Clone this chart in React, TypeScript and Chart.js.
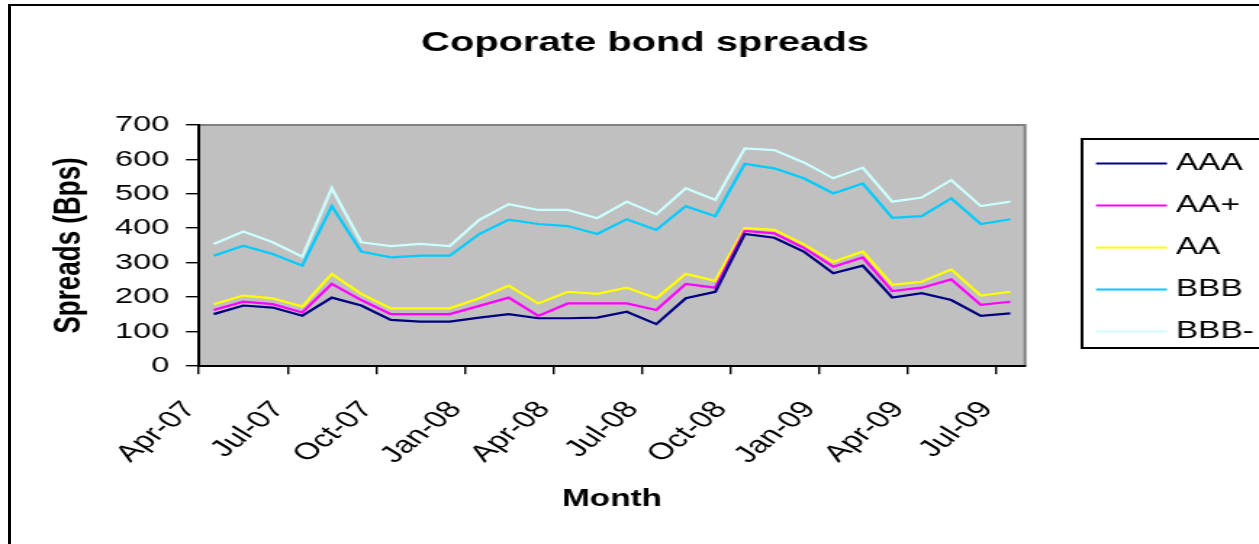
import React, { useEffect, useRef } from 'react';
import { Chart, registerables } from 'chart.js';

Chart.register(...registerables);

const chartTitle = 'Coporate bond spreads';
const xTitle = 'Month';
const yTitle = 'Spreads (Bps)';

const months = [
  'Apr-07', 'May-07', 'Jun-07', 'Jul-07', 'Aug-07', 'Sep-07', 'Oct-07', 'Nov-07', 'Dec-07',
  'Jan-08', 'Feb-08', 'Mar-08', 'Apr-08', 'May-08', 'Jun-08', 'Jul-08', 'Aug-08', 'Sep-08',
  'Oct-08', 'Nov-08', 'Dec-08', 'Jan-09', 'Feb-09', 'Mar-09', 'Apr-09', 'May-09', 'Jun-09', 'Jul-09',
];
const tickLabels = ['Apr-07', 'Jul-07', 'Oct-07', 'Jan-08', 'Apr-08', 'Jul-08', 'Oct-08', 'Jan-09', 'Apr-09', 'Jul-09'];
const yTicks = [0, 100, 200, 300, 400, 500, 600, 700];

const aaa = [150, 175, 169, 145, 198, 175, 133, 128, 128, 140, 150, 138, 138, 140, 157, 121, 196, 215, 383, 372, 332, 269, 291, 198, 211, 191, 145, 152];
const aaPlus = [162, 186, 179, 155, 238, 191, 150, 150, 150, 174, 198, 145, 181, 181, 181, 162, 238, 227, 392, 385, 343, 288, 315, 217, 227, 251, 177, 186];
const aa = [179, 204, 196, 172, 267, 209, 167, 167, 167, 196, 233, 181, 215, 209, 227, 196, 267, 247, 400, 395, 353, 302, 332, 235, 244, 280, 204, 215];
const bbb = [320, 349, 325, 291, 464, 332, 315, 320, 320, 383, 425, 412, 406, 383, 426, 395, 464, 435, 587, 574, 545, 501, 530, 430, 435, 487, 412, 426];
const bbbMinus = [354, 390, 359, 317, 516, 359, 348, 354, 348, 424, 470, 453, 453, 429, 477, 440, 516, 482, 632, 627, 591, 545, 576, 477, 489, 540, 464, 477];

const seriesNames = ['AAA', 'AA+', 'AA', 'BBB', 'BBB-'];
const seriesValues = [aaa, aaPlus, aa, bbb, bbbMinus];
const seriesColors = ['#000080', '#FF00FF', '#FFFF00', '#00CCFF', '#CCFFFF'];

const FONT = "'Liberation Sans', Arial, Helvetica, sans-serif";
const CANVAS_W = 868;
const CANVAS_H = 544;
const SX = 1259 / CANVAS_W;

const plotBgPlugin = {
  id: 'plotBg',
  beforeDraw(chart: any) {
    const { ctx, chartArea: a } = chart;
    ctx.save();
    ctx.fillStyle = '#C0C0C0';
    ctx.fillRect(a.left, a.top, a.right - a.left, a.bottom - a.top);
    ctx.strokeStyle = '#808080';
    ctx.lineWidth = 2;
    ctx.beginPath();
    ctx.moveTo(a.left, a.top);
    ctx.lineTo(a.right, a.top);
    ctx.lineTo(a.right, a.bottom);
    ctx.stroke();
    ctx.restore();
  },
};

const titleAndLegendPlugin = {
  id: 'titleLegend',
  afterDraw(chart: any) {
    const { ctx } = chart;
    ctx.save();
    // title
    ctx.fillStyle = '#000';
    ctx.font = `bold 27.5px ${FONT}`;
    ctx.textAlign = 'center';
    ctx.textBaseline = 'middle';
    ctx.fillText(chartTitle, 645 / SX, 43.5);
    // legend box
    const bx = 1082 / SX;
    const by = 139;
    const bh = 209;
    ctx.strokeStyle = '#000';
    ctx.lineWidth = 2;
    ctx.strokeRect(bx, by, 300, bh);
    const ds = chart.data.datasets;
    ctx.font = `23px ${FONT}`;
    ctx.textAlign = 'left';
    ds.forEach((d: any, i: number) => {
      const y = 163.5 + i * 42;
      ctx.strokeStyle = d.borderColor;
      ctx.lineWidth = 2;
      ctx.beginPath();
      ctx.moveTo(1096 / SX, y);
      ctx.lineTo(1167 / SX, y);
      ctx.stroke();
      ctx.fillStyle = '#000';
      ctx.fillText(d.label, 1176 / SX, y);
    });
    ctx.restore();
  },
};

export default function App() {
  const ref = useRef<HTMLCanvasElement>(null);
  useEffect(() => {
    if (!ref.current) return;
    const datasets = seriesNames.map((name, s) => ({
      label: name,
      data: seriesValues[s].map((v, i) => ({ x: i + 0.5, y: v })),
      borderColor: seriesColors[s],
      backgroundColor: seriesColors[s],
      borderWidth: 2.2,
      pointRadius: 0,
      tension: 0,
      fill: false,
    }));
    const chart = new Chart(ref.current, {
      type: 'line',
      data: { datasets },
      plugins: [plotBgPlugin, titleAndLegendPlugin],
      options: {
        responsive: false,
        animation: false,
        events: [],
        layout: { padding: { top: 125, right: CANVAS_W - 1025 / SX, bottom: 0, left: 0 } },
        plugins: {
          legend: { display: false },
          title: { display: false },
          tooltip: { enabled: false },
        },
        scales: {
          x: {
            type: 'linear',
            min: 0,
            max: months.length,
            afterFit: (scale: any) => { scale.height = CANVAS_H - 365.7; },
            afterBuildTicks: (scale: any) => {
              scale.ticks = tickLabels.map((l) => ({ value: months.indexOf(l) }));
            },
            grid: {
              drawOnChartArea: false,
              drawTicks: true,
              tickLength: 8.5,
              color: '#000',
              lineWidth: 1.4,
            },
            border: { display: true, color: '#000', width: 2 },
            ticks: {
              color: '#000',
              font: { family: FONT, size: 23.5 },
              minRotation: 49,
              maxRotation: 49,
              autoSkip: false,
              padding: 22,
              labelOffset: -6,
              callback: (v: any) => months[v],
            },
            title: {
              display: true,
              text: xTitle,
              color: '#000',
              font: { family: FONT, size: 23, weight: 'bold' },
              padding: { top: 0, bottom: 31 },
            },
          },
          y: {
            type: 'linear',
            min: 0,
            max: 700,
            afterFit: (scale: any) => { scale.width = 199 / SX; },
            afterBuildTicks: (scale: any) => {
              scale.ticks = yTicks.map((v) => ({ value: v }));
            },
            grid: {
              drawOnChartArea: false,
              drawTicks: true,
              tickLength: 9,
              color: '#000',
              lineWidth: 1.4,
            },
            border: { display: true, color: '#000', width: 2 },
            ticks: {
              color: '#000',
              font: { family: FONT, size: 22.5 },
              padding: 11.5,
            },
            title: {
              display: true,
              text: yTitle,
              color: '#000',
              font: { family: FONT, size: 26, weight: 'bold' },
              padding: { top: 32.7, bottom: 0 },
            },
          },
        },
      } as any,
    });
    return () => chart.destroy();
  }, []);

  return (
    <div style={{ position: 'absolute', left: 0, top: 0, width: 1259, height: 544, overflow: 'hidden', background: '#fff' }}>
      <div style={{ position: 'absolute', left: 0, top: 0, width: CANVAS_W, height: CANVAS_H, transform: `scaleX(${SX})`, transformOrigin: '0 0' }}>
        <canvas ref={ref} width={CANVAS_W} height={CANVAS_H} style={{ display: 'block', width: CANVAS_W, height: CANVAS_H }} />
      </div>
      <div style={{ position: 'absolute', left: 8, top: 4, width: 1400, height: 700, borderLeft: '3px solid #000', borderTop: '2px solid #000' }} />
    </div>
  );
}
